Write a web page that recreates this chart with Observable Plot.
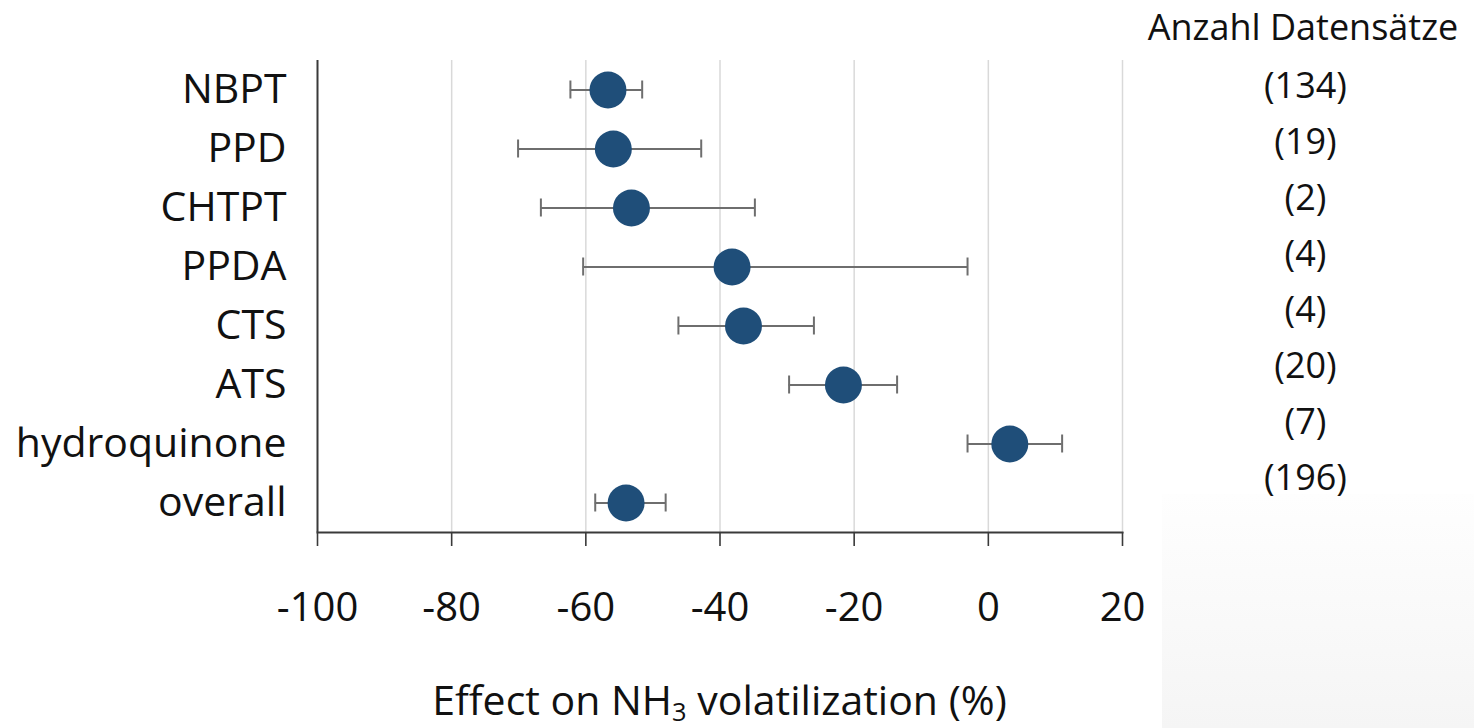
<!DOCTYPE html>
<html>
<head>
<meta charset="utf-8">
<script src="https://cdn.jsdelivr.net/npm/d3@7"></script>
<script src="https://cdn.jsdelivr.net/npm/@observablehq/plot@0.6"></script>
<style>
  html, body { margin: 0; padding: 0; background: #ffffff; }
  body { font-family: "Open Sans", sans-serif; color: #111; }
  #wrap { position: relative; width: 1474px; height: 728px; overflow: hidden; background: #fff; }
  #shade { position: absolute; left: 1162px; top: 494px; width: 312px; height: 234px;
           background: linear-gradient(#fefefe, #f5f5f5); z-index: 0; }
  #main { position: absolute; left: 0; top: 0; width: 1160px; height: 632px; z-index: 1; }
  #counts { position: absolute; left: 1205px; top: 0; width: 200px; height: 520px; z-index: 2; }
  #main svg, #counts svg { max-width: none !important; }
  #ctitle { position: absolute; left: 1128px; width: 350px; top: 4px; text-align: center;
            font-size: 36px; line-height: 46px; z-index: 2; white-space: nowrap; }
  #xtitle { position: absolute; left: 317px; width: 805px; top: 672px; text-align: center;
            font-size: 41px; line-height: 54px; z-index: 2; white-space: nowrap; }
  #xtitle sub { font-size: 0.62em; vertical-align: -0.25em; line-height: 0; }
</style>
</head>
<body>
<div id="wrap">
  <div id="shade"></div>
  <div id="main"></div>
  <div id="ctitle">Anzahl Datensätze</div>
  <div id="counts"></div>
  <div id="xtitle">Effect on NH<sub>3</sub> volatilization (%)</div>
</div>
<script>
// ---- data ----
const names   = ["NBPT", "PPD", "CHTPT", "PPDA", "CTS", "ATS", "hydroquinone", "overall"];
const effect  = [-56.7, -55.9, -53.2, -38.2, -36.5, -21.6, 3.2, -54.0];
const lower   = [-62.3, -70.1, -66.7, -60.4, -46.2, -29.7, -3.1, -58.6];
const upper   = [-51.6, -42.8, -34.8, -3.1, -26.0, -13.6, 11.0, -48.1];
const counts  = [134, 19, 2, 4, 4, 20, 7, 196];
const xTicks  = [-100, -80, -60, -40, -20, 0, 20];

const rows = names.map((name, i) => ({
  name, effect: effect[i], lo: lower[i], hi: upper[i], n: counts[i], label: `(${counts[i]})`
}));

const font = "'Open Sans', sans-serif";
const dark = "#3a3a3a";

const main = Plot.plot({
  width: 1160,
  height: 632,
  marginLeft: 317,
  marginRight: 38,
  marginTop: 60,
  marginBottom: 100,
  style: { fontFamily: font, color: "#111", background: "transparent" },
  x: { domain: [-100, 20] },
  y: { type: "band", domain: names, padding: 0 },
  marks: [
    Plot.gridX(xTicks.slice(1), { stroke: "#d9d9d9", strokeOpacity: 1, strokeWidth: 1.5 }),
    Plot.ruleX([-100], { stroke: dark, strokeWidth: 2 }),
    Plot.frame({ anchor: "bottom", stroke: dark, strokeWidth: 2 }),
    Plot.axisX({ ticks: xTicks, tickSize: 14, tickPadding: 46, fontSize: 40,
                 stroke: dark, strokeWidth: 1.6, label: null, tickFormat: d => String(d) }),
    Plot.axisY({ tickSize: 0, tickPadding: 31, fontSize: 41, label: null }),
    Plot.ruleY(rows, { y: "name", x1: "lo", x2: "hi", stroke: "#6e6e6e", strokeWidth: 2 }),
    Plot.tickX(rows, { y: "name", x: "lo", stroke: "#6e6e6e", strokeWidth: 2, insetTop: 20.5, insetBottom: 20.5 }),
    Plot.tickX(rows, { y: "name", x: "hi", stroke: "#6e6e6e", strokeWidth: 2, insetTop: 20.5, insetBottom: 20.5 }),
    Plot.dot(rows, { y: "name", x: "effect", r: 18.5, fill: "#1f4e79", stroke: "none" })
  ]
});
document.getElementById("main").appendChild(main);

const side = Plot.plot({
  width: 200,
  height: 520,
  marginLeft: 0,
  marginRight: 0,
  marginTop: 85,
  marginBottom: 42,
  style: { fontFamily: font, color: "#111", background: "transparent" },
  y: { type: "point", domain: names, padding: 0, axis: null },
  marks: [
    Plot.text(rows, { y: "name", text: "label", fontSize: 36, fill: "#111" })
  ]
});
document.getElementById("counts").appendChild(side);
</script>
</body>
</html>
